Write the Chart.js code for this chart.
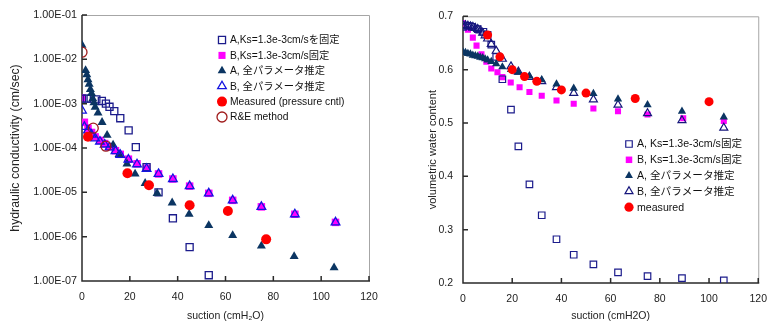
<!DOCTYPE html>
<html>
<head>
<meta charset="utf-8">
<script src="https://cdn.jsdelivr.net/npm/chart.js@4/dist/chart.umd.min.js"></script>
<style>
  body { margin: 0; background: #fff; width: 777px; height: 322px; overflow: hidden; position: relative; }
  #chartK { position: absolute; left: 0; top: 0; }
  #chartW { position: absolute; left: 400px; top: 0; }
</style>
</head>
<body>
<canvas id="chartK" width="390" height="322"></canvas>
<canvas id="chartW" width="377" height="322"></canvas>
<script>
// --- hydraulic conductivity (left) ---
var kSqAX = [0, 2, 3.6, 6, 8.3, 10, 11.5, 13.5, 16, 19.5, 22.5, 27, 32, 38, 45, 53];
var kSqA = [1.3e-3, 1.3e-3, 1.3e-3, 1.25e-3, 1.15e-3, 1.0e-3, 8.5e-4, 6.8e-4, 4.7e-4, 2.5e-4, 1.05e-4, 3.7e-5, 1.0e-5, 2.6e-6, 5.8e-7, 1.35e-7];
var kBX = [0, 1, 2.5, 4, 5.5, 7.5, 9.5, 11.5, 14, 16, 19.4, 23, 27, 32, 38, 45, 53, 63, 75, 89, 106];
var kSqB = [1.35e-3, 3.8e-4, 2.8e-4, 2.24e-4, 1.78e-4, 1.48e-4, 1.26e-4, 1.07e-4, 8.7e-5, 7.2e-5, 5.6e-5, 4.4e-5, 3.5e-5, 2.6e-5, 2.0e-5, 1.38e-5, 9.5e-6, 6.6e-6, 4.7e-6, 3.2e-6, 2.1e-6];
var kTriB = [7e-4, 3.0e-4, 2.5e-4, 2.0e-4, 1.65e-4, 1.4e-4, 1.2e-4, 1.03e-4, 8.5e-5, 7.0e-5, 5.5e-5, 4.3e-5, 3.4e-5, 2.6e-5, 2.0e-5, 1.38e-5, 9.5e-6, 6.6e-6, 4.7e-6, 3.2e-6, 2.1e-6];
var kTriAX = [0, 1.5, 2, 2.5, 3, 3.5, 4, 4.5, 5, 5.5, 6.7, 8.4, 10.5, 13, 15.5, 18.8, 22.2, 26.4, 31.4, 37.7, 44.8, 53, 63, 75, 88.7, 105.4];
var kTriA = [2.1e-2, 5.6e-3, 4.5e-3, 3.5e-3, 2.75e-3, 2.1e-3, 1.7e-3, 1.3e-3, 1.05e-3, 8.3e-4, 6.2e-4, 3.8e-4, 1.95e-4, 1.17e-4, 7.2e-5, 4.4e-5, 2.6e-5, 1.6e-5, 9.5e-6, 5.8e-6, 3.2e-6, 1.8e-6, 1.07e-6, 6.2e-7, 3.6e-7, 2.0e-7];
var kMeasX = [2.5, 19, 28, 45, 61, 77];
var kMeas = [1.8e-4, 2.7e-5, 1.45e-5, 5.1e-6, 3.8e-6, 8.7e-7];
var kReX = [0, 4.7, 10];
var kRe = [1.45e-2, 2.8e-4, 1.1e-4];
var kTicks = [1e-7, 1e-6, 1e-5, 1e-4, 1e-3, 1e-2, 1e-1];

// --- volumetric water content (right) ---
var wSqAX = [0, 2, 3.6, 6, 8.3, 10, 11.5, 13.5, 16, 19.5, 22.5, 27, 32, 38, 45, 53, 63, 75, 89, 106];
var wSqA = [0.68, 0.682, 0.68, 0.676, 0.671, 0.665, 0.647, 0.624, 0.582, 0.525, 0.456, 0.385, 0.327, 0.282, 0.253, 0.235, 0.220, 0.213, 0.209, 0.205];
var wSqBX = [0, 2, 4, 5.5, 7.5, 9.5, 11.5, 14, 16, 19.4, 23, 27, 32, 38, 45, 53, 63, 75, 89.5, 106];
var wSqB = [0.687, 0.675, 0.66, 0.645, 0.629, 0.615, 0.602, 0.595, 0.586, 0.576, 0.567, 0.558, 0.551, 0.542, 0.536, 0.527, 0.522, 0.516, 0.509, 0.504];
var wTriX = [0, 1, 2, 3, 4, 5, 6, 7, 8, 9, 10, 11.5, 13.5, 16, 19.5, 22.5, 27, 32, 38, 45, 53, 63, 75, 89, 106];
var wTriA = [0.633, 0.632, 0.630, 0.629, 0.627, 0.626, 0.625, 0.623, 0.622, 0.620, 0.618, 0.615, 0.611, 0.605, 0.600, 0.595, 0.588, 0.581, 0.573, 0.565, 0.555, 0.545, 0.534, 0.522, 0.511];
var wTriB = [0.683, 0.683, 0.682, 0.681, 0.680, 0.678, 0.676, 0.673, 0.669, 0.664, 0.658, 0.648, 0.635, 0.620, 0.606, 0.596, 0.586, 0.578, 0.567, 0.556, 0.544, 0.534, 0.518, 0.505, 0.491];
var wMeasX = [10, 15, 20, 25, 30, 40, 50, 70, 100];
var wMeas = [0.665, 0.624, 0.600, 0.587, 0.578, 0.562, 0.556, 0.546, 0.540];

Chart.defaults.font.family = "'Liberation Sans', Arial, 'Noto Sans CJK JP', sans-serif";
Chart.defaults.font.size = 10;
Chart.defaults.color = "#222";

function pts(xs, ys) {
  return xs.map((x, i) => ({ x: x, y: ys[i] }));
}

// frame: gray top/right, dark axes, inward tick marks
var framePlugin = {
  id: "frame",
  beforeDatasetsDraw: function(chart) {
    var a = chart.chartArea, ctx = chart.ctx;
    ctx.save();
    ctx.strokeStyle = "#a6a6a6";
    ctx.lineWidth = 1;
    ctx.beginPath();
    ctx.moveTo(a.left, a.top + 0.5);
    ctx.lineTo(a.right + 0.5, a.top + 0.5);
    ctx.lineTo(a.right + 0.5, a.bottom);
    ctx.stroke();
    ctx.strokeStyle = "#2a2a2a";
    ctx.lineWidth = 1.5;
    ctx.beginPath();
    ctx.moveTo(a.left, a.top);
    ctx.lineTo(a.left, a.bottom);
    ctx.lineTo(a.right + 1, a.bottom);
    chart.scales.x.ticks.forEach(function(t) {
      var px = chart.scales.x.getPixelForValue(t.value);
      ctx.moveTo(px, a.bottom);
      ctx.lineTo(px, a.bottom - 5);
    });
    chart.scales.y.ticks.forEach(function(t) {
      var py = chart.scales.y.getPixelForValue(t.value);
      ctx.moveTo(a.left, py);
      ctx.lineTo(a.left + 5, py);
    });
    ctx.stroke();
    ctx.restore();
  }
};

// legend drawn inside the plot from the datasets
function insideLegend(x, y0, dy, r, size) {
  return {
    id: "insideLegend",
    afterDraw: function(chart) {
      var ctx = chart.ctx;
      ctx.save();
      ctx.font = size + "px " + Chart.defaults.font.family;
      ctx.textBaseline = "middle";
      ctx.textAlign = "left";
      chart.data.datasets.slice().sort((a, b) => a.legendIndex - b.legendIndex).forEach(function(ds, i) {
        var y = y0 + i * dy;
        ctx.fillStyle = ds.backgroundColor;
        ctx.strokeStyle = ds.borderColor;
        ctx.lineWidth = ds.borderWidth;
        Chart.helpers.drawPoint(ctx, { pointStyle: ds.pointStyle, radius: r, borderWidth: ds.borderWidth, rotation: 0 }, x, y);
        ctx.fillStyle = "#111";
        ctx.fillText(ds.label, x + 8, y + 0.5);
      });
      ctx.restore();
    }
  };
}

function formatSci(v) {
  var e = Math.round(Math.log10(v));
  return "1.00E" + (e < 0 ? "-" : "+") + String(Math.abs(e)).padStart(2, "0");
}

new Chart(document.getElementById("chartK"), {
  type: "scatter",
  data: {
    datasets: [
      { label: "R&E method", legendIndex: 5, order: 0, data: pts(kReX, kRe), pointStyle: "circle", radius: 5, backgroundColor: "rgba(0,0,0,0)", borderColor: "#a01c1c", borderWidth: 1.3 },
      { label: "Measured (pressure cntl)", legendIndex: 4, order: 1, data: pts(kMeasX, kMeas), pointStyle: "circle", radius: 5, backgroundColor: "#ff0000", borderColor: "#ff0000", borderWidth: 0 },
      { label: "B, 全パラメータ推定", legendIndex: 3, order: 2, data: pts(kBX, kTriB), pointStyle: "triangle", radius: 5, backgroundColor: "rgba(0,0,0,0)", borderColor: "#1414e0", borderWidth: 1.3 },
      { label: "A, 全パラメータ推定", legendIndex: 2, order: 3, data: pts(kTriAX, kTriA), pointStyle: "triangle", radius: 5.2, backgroundColor: "#0b3562", borderColor: "#0b3562", borderWidth: 0 },
      { label: "A,Ks=1.3e-3cm/sを固定", legendIndex: 0, order: 4, data: pts(kSqAX, kSqA), pointStyle: "rect", radius: 5, backgroundColor: "rgba(0,0,0,0)", borderColor: "#1c1c8c", borderWidth: 1.3 },
      { label: "B,Ks=1.3e-3cm/s固定", legendIndex: 1, order: 5, data: pts(kBX, kSqB), pointStyle: "rect", radius: 5.3, backgroundColor: "#ff00ff", borderColor: "#ff00ff", borderWidth: 0 }
    ]
  },
  options: {
    responsive: false,
    animation: false,
    events: [],
    layout: { padding: { top: 15, right: 21, left: 0, bottom: 0 } },
    plugins: { legend: { display: false }, tooltip: { enabled: false } },
    scales: {
      x: {
        type: "linear",
        min: 0,
        max: 120,
        ticks: { stepSize: 20, padding: 10, maxRotation: 0, font: { size: 10.5 } },
        grid: { display: false, drawTicks: false },
        border: { display: false },
        title: { display: true, text: "suction (cmH₂O)", font: { size: 10.5 }, padding: { top: 0, bottom: 0 } },
        afterFit: function(scale) { scale.height = 41; }
      },
      y: {
        type: "logarithmic",
        min: 1e-7,
        max: 1e-1,
        afterBuildTicks: function(scale) { scale.ticks = kTicks.map(v => ({ value: v })); },
        ticks: { padding: 5, callback: formatSci, font: { size: 10.8 } },
        grid: { display: false, drawTicks: false },
        border: { display: false },
        title: { display: true, text: "hydraulic conductivity (cm/sec)", font: { size: 12.3 }, padding: { top: 8, bottom: 0 } },
        afterFit: function(scale) { scale.width = 82; }
      }
    }
  },
  plugins: [framePlugin, insideLegend(222, 40, 15.4, 5, 10.3)]
});

new Chart(document.getElementById("chartW"), {
  type: "scatter",
  data: {
    datasets: [
      { label: "measured", legendIndex: 4, order: 0, data: pts(wMeasX, wMeas), pointStyle: "circle", radius: 4.5, backgroundColor: "#ff0000", borderColor: "#ff0000", borderWidth: 0 },
      { label: "A, 全パラメータ推定", legendIndex: 2, order: 1, data: pts(wTriX, wTriA), pointStyle: "triangle", radius: 4.8, backgroundColor: "#0b3562", borderColor: "#0b3562", borderWidth: 0 },
      { label: "B, 全パラメータ推定", legendIndex: 3, order: 2, data: pts(wTriX, wTriB), pointStyle: "triangle", radius: 4.6, backgroundColor: "rgba(0,0,0,0)", borderColor: "#16167c", borderWidth: 1.2 },
      { label: "A, Ks=1.3e-3cm/s固定", legendIndex: 0, order: 3, data: pts(wSqAX, wSqA), pointStyle: "rect", radius: 4.6, backgroundColor: "rgba(0,0,0,0)", borderColor: "#1c1c8c", borderWidth: 1.2 },
      { label: "B, Ks=1.3e-3cm/s固定", legendIndex: 1, order: 4, data: pts(wSqBX, wSqB), pointStyle: "rect", radius: 4.3, backgroundColor: "#ff00ff", borderColor: "#ff00ff", borderWidth: 0 }
    ]
  },
  options: {
    responsive: false,
    animation: false,
    events: [],
    layout: { padding: { top: 8, right: 11, left: 0, bottom: 0 } },
    plugins: { legend: { display: false }, tooltip: { enabled: false } },
    scales: {
      x: {
        type: "linear",
        min: 0,
        max: 120,
        ticks: { stepSize: 20, padding: 10, maxRotation: 0, font: { size: 10.5 } },
        grid: { display: false, drawTicks: false },
        border: { display: false },
        title: { display: true, text: "suction (cmH2O)", font: { size: 10.5 }, padding: { top: 0, bottom: 0 } },
        afterFit: function(scale) { scale.height = 39; }
      },
      y: {
        type: "linear",
        min: 0.2,
        max: 0.7,
        ticks: { stepSize: 0.1, padding: 10, callback: v => v.toFixed(1), font: { size: 10.5 } },
        grid: { display: false, drawTicks: false },
        border: { display: false },
        title: { display: true, text: "volumetric water content", font: { size: 11 }, padding: { top: 26, bottom: 0 } },
        afterFit: function(scale) { scale.width = 63; }
      }
    }
  },
  plugins: [framePlugin, insideLegend(229, 144, 15.8, 4.6, 10.6)]
});
</script>
</body>
</html>
